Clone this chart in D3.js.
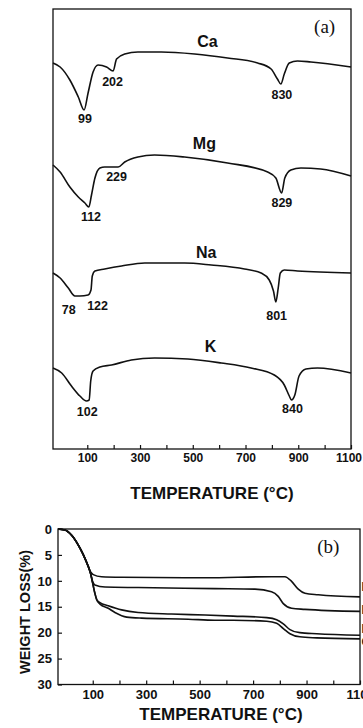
<!DOCTYPE html>
<html>
<head>
<meta charset="utf-8">
<script src="https://cdn.jsdelivr.net/npm/d3@7"></script>
<style>
  body { margin: 0; background: #fff; }
  svg { display: block; }
  text { font-family: 'Liberation Sans', Arial, sans-serif; font-weight: bold; fill: #111; }
  .curve { fill: none; stroke: #111; stroke-width: 1.6; stroke-linejoin: round; }
  .frame { fill: none; stroke: #111; stroke-width: 1.3; }
  .tick line { stroke: #111; stroke-width: 1.2; }
</style>
</head>
<body>
<svg id="chart"></svg>
<script>
const WIDTH = 363;
const HEIGHT = 728;

// ---- (a) DTA curves: [temperature °C, signal (a.u., relative to start)]
const SAMPLES = ['Ca', 'Mg', 'Na', 'K'];
const dtaOffsets = [386, 284, 176, 81];

const dtaCa = [[-30,0],[-3,-4],[34,-17],[66,-34],[88,-47],[103,-30],[122,-9],[141,-2],[173,-4],
  [198,-8],[211,4],[242,9],[292,11],[381,11],[507,9],[632,5],[746,0],[797,-6],[821,-16],
  [834,-21],[847,-11],[866,0],[897,2],[948,1],[1100,-4]];
const dtaMg = [[-30,0],[-3,-7],[34,-22],[66,-32],[91,-38],[106,-42],[116,-30],[129,-13],[148,-3],
  [166,-2],[217,-2],[242,3],[292,8],[355,10],[469,8],[632,2],[784,-7],[815,-13],[837,-28],
  [849,-13],[872,-5],[910,-3],[985,-4],[1100,-11]];
const dtaNa = [[-30,0],[-3,-5],[28,-15],[53,-23],[72,-23],[103,-22],[114,-17],[119,-3],[129,2],
  [166,4],[230,7],[318,10],[469,10],[570,8],[696,4],[759,0],[790,-7],[806,-18],[815,-29],
  [824,-15],[832,0],[847,3],[897,2],[1100,0]];
const dtaK = [[-30,0],[3,-5],[40,-18],[72,-28],[97,-33],[107,-32],[113,-13],[122,-3],[148,1],
  [192,3],[267,8],[355,10],[481,9],[608,5],[721,0],[809,-7],[847,-17],[866,-28],[874,-32],
  [887,-27],[903,-8],[929,-1],[973,0],[1100,-5]];
const dtaCurves = [dtaCa, dtaMg, dtaNa, dtaK];

// name label [t, v] and peak labels [text, t, v]
const nameLabelPos = [[556,22],[544,22],[551,21],[567,22]];
const peakLabels = [
  [['99',91,-56],['202',196,-19],['830',838,-32]],
  [['112',114,-52],['229',211,-12],['829',838,-38]],
  [['78',30,-37],['122',139,-33],['801',818,-43]],
  [['102',100,-44],['840',878,-41]]
];

// ---- (b) TGA curves: [temperature °C, weight loss %]
const tgaStart = [[-30,0],[-4,0.2],[21,1.2],[46,3.1],[65,5],[83,7.2]];
const tgaA = [[92,8.3],[102,8.8],[133,9.2],[208,9.3],[520,9.4],[769,9.2],[819,9.2],[844,10.1],
  [869,11.6],[894,12.4],[944,12.7],[1100,13.1]];
const tgaB = [[92,8.6],[100,10.2],[108,10.8],[146,11.2],[270,11.3],[557,11.5],[707,11.6],[769,12.1],
  [794,13.0],[813,14.4],[844,15.3],[894,15.5],[1100,15.9]];
const tgaC = [[92,8.6],[100,10.5],[108,12.4],[115,13.6],[127,14.2],[158,14.8],[208,15.6],[270,16.1],
  [395,16.4],[520,16.6],[626,16.8],[751,17.1],[788,17.5],[813,18.3],[838,19.4],[875,20.0],
  [938,20.2],[1100,20.5]];
const tgaD = [[92,8.6],[100,10.5],[108,12.4],[115,13.7],[127,14.5],[158,15.3],[183,16.1],[227,17.0],
  [283,17.2],[457,17.4],[557,17.6],[626,17.6],[751,17.8],[788,18.2],[813,19.2],[838,20.2],
  [875,20.8],[938,21.0],[1100,21.2]];
const tgaCurves = [tgaA, tgaB, tgaC, tgaD];
const tgaSideLabels = [['K',11.2],['Na',15.6],['Mg',19.3],['Ca',21.8]];

const xTickValues = [100,200,300,400,500,600,700,800,900,1000,1100];
const xTickLabels = [100,300,500,700,900,1100];
const yTickValues = [0,5,10,15,20,25,30];

const svg = d3.select('#chart').attr('width', WIDTH).attr('height', HEIGHT);

//    (a) DTA    //////////////////////////////////////////////////
const xA = d3.scaleLinear().domain([-30, 1100]).range([53, 351]);
const yA = d3.scaleLinear().domain([0, 440]).range([449, 9]);

const panelA = svg.append('g');
panelA.append('rect').attr('class', 'frame')
  .attr('x', xA(-30)).attr('y', yA(440))
  .attr('width', xA(1100) - xA(-30)).attr('height', yA(0) - yA(440));

const axisA = panelA.append('g')
  .attr('transform', `translate(0,${yA(0)})`)
  .call(d3.axisBottom(xA).tickValues(xTickValues).tickSizeInner(-4).tickSizeOuter(0)
    .tickPadding(4).tickFormat(d => xTickLabels.includes(d) ? d : ''));
axisA.select('.domain').remove();
axisA.selectAll('text').attr('font-size', 12).attr('fill', '#111')
  .attr('dx', d => d === 1100 ? -2.5 : 0)
  .style('font-family', "'Liberation Sans', Arial, sans-serif").style('font-weight', 'bold');

const lineA = off => d3.line().x(d => xA(d[0])).y(d => yA(off + d[1])).curve(d3.curveMonotoneX);

dtaCurves.forEach((c, i) => {
  const off = dtaOffsets[i];
  panelA.append('path').attr('class', 'curve').attr('d', lineA(off)(c));
  panelA.append('text')
    .attr('x', xA(nameLabelPos[i][0])).attr('y', yA(off + nameLabelPos[i][1]))
    .attr('text-anchor', 'middle').attr('dominant-baseline', 'central')
    .attr('font-size', 16).text(SAMPLES[i]);
  panelA.selectAll(null).data(peakLabels[i]).enter().append('text')
    .attr('x', d => xA(d[1])).attr('y', d => yA(off + d[2]))
    .attr('text-anchor', 'middle').attr('dominant-baseline', 'central')
    .attr('font-size', 12.5).text(d => d[0]);
});

panelA.append('text')
  .attr('x', xA(1000)).attr('y', yA(423))
  .attr('text-anchor', 'middle').attr('dominant-baseline', 'central')
  .style('font-family', "'Liberation Serif', 'Times New Roman', serif").style('font-weight', 'normal')
  .attr('font-size', 19).text('(a)');

svg.append('text')
  .attr('x', 212).attr('y', 499)
  .attr('text-anchor', 'middle').attr('font-size', 17)
  .text('TEMPERATURE (°C)');

//    (b) TGA    //////////////////////////////////////////////////
const xB = d3.scaleLinear().domain([-30, 1100]).range([58, 360]);
const yB = d3.scaleLinear().domain([0, 30]).range([529, 684.5]);

const panelB = svg.append('g');
panelB.append('rect').attr('class', 'frame')
  .attr('x', xB(-30)).attr('y', yB(0))
  .attr('width', xB(1100) - xB(-30)).attr('height', yB(30) - yB(0));

const axisBx = panelB.append('g')
  .attr('transform', `translate(0,${yB(30)})`)
  .call(d3.axisBottom(xB).tickValues(xTickValues).tickSizeInner(-4).tickSizeOuter(0)
    .tickPadding(5).tickFormat(d => xTickLabels.includes(d) ? d : ''));
axisBx.select('.domain').remove();

const axisBy = panelB.append('g')
  .attr('transform', `translate(${xB(-30)},0)`)
  .call(d3.axisLeft(yB).tickValues(yTickValues).tickSizeInner(-4).tickSizeOuter(0).tickPadding(6));
axisBy.select('.domain').remove();

panelB.selectAll('.tick text').attr('font-size', 13).attr('fill', '#111')
  .style('font-family', "'Liberation Sans', Arial, sans-serif").style('font-weight', 'bold');

const lineB = d3.line().x(d => xB(d[0])).y(d => yB(d[1])).curve(d3.curveMonotoneX);
tgaCurves.forEach(c => {
  panelB.append('path').attr('class', 'curve').attr('d', lineB(tgaStart.concat(c)));
});

panelB.selectAll(null).data(tgaSideLabels).enter().append('text')
  .attr('x', xB(1100) + 1.5).attr('y', d => yB(d[1]))
  .attr('dominant-baseline', 'central').attr('font-size', 12).text(d => d[0]);

panelB.append('text')
  .attr('x', xB(1000) - 5).attr('y', yB(3.3))
  .attr('text-anchor', 'middle').attr('dominant-baseline', 'central')
  .style('font-family', "'Liberation Serif', 'Times New Roman', serif").style('font-weight', 'normal')
  .attr('font-size', 19).text('(b)');

svg.append('text')
  .attr('transform', `translate(25,612) rotate(-90)`)
  .attr('text-anchor', 'middle').attr('dominant-baseline', 'central')
  .attr('font-size', 14.5).text('WEIGHT LOSS(%)');

svg.append('text')
  .attr('x', 221).attr('y', 720)
  .attr('text-anchor', 'middle').attr('font-size', 17)
  .text('TEMPERATURE (°C)');
</script>
</body>
</html>
